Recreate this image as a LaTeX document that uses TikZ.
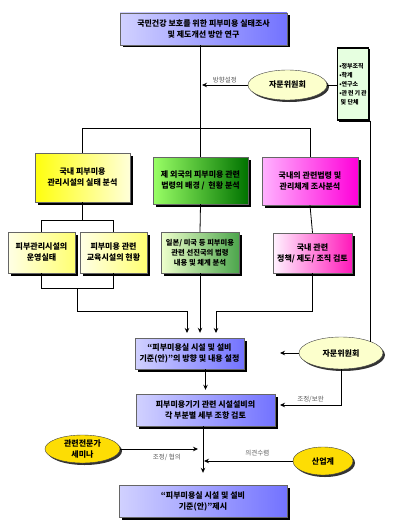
\documentclass[tikz,border=0pt]{standalone}
\usepackage{fontspec}
\setmainfont{Noto Sans CJK KR}
\usetikzlibrary{arrows.meta,shadows,shapes.geometric,calc}

\begin{document}
\begin{tikzpicture}[x=1pt, y=-1pt, line width=0.8pt,
  font=\bfseries\fontsize{8}{11}\selectfont,
  arr/.style={-{Stealth[length=5pt,width=4.5pt]}},
  shade box/.style={draw=black!60, thin, align=center, inner sep=1pt,
    drop shadow={shadow xshift=2.5pt, shadow yshift=-2.5pt, fill=black, opacity=1}},
  bluebox/.style={shade box, left color=blue!18!white, right color=blue!55!white},
  ylwbox/.style={shade box, left color=yellow!95!white, right color=yellow!15!white},
  ylwsub/.style={shade box, left color=yellow!10!white, right color=yellow!55!white},
  grnbox/.style={shade box, left color=green!55!lime!60!white, right color=green!45!black},
  grnsub/.style={shade box, left color=green!10!lime!20!white, right color=green!50!black!70!white},
  pnkbox/.style={shade box, left color=magenta!30!white, right color=magenta!85!red},
  pnksub/.style={shade box, left color=magenta!5!white, right color=magenta!70!red!90!white},
  oval/.style={ellipse, draw=black!75, thin, inner sep=0pt, align=center,
    drop shadow={shadow xshift=2pt, shadow yshift=-2pt, fill=black!80, opacity=1}},
  advoval/.style={oval, fill=lime!25!yellow!20!white},
  goldoval/.style={oval, fill=yellow!80!orange},
  lbl/.style={font=\fontsize{6.5}{7.5}\selectfont, text=black!65, inner sep=2pt}]
  \useasboundingbox (0,0) rectangle (407,527);

  % top title
  \node[bluebox, minimum width=167, minimum height=32] (title) at (203.5,29)
    {국민건강 보호를 위한 피부미용 실태조사\\및 제도개선 방안 연구};

  % advisory group and organisations
  \node[advoval, minimum width=79, minimum height=30] (adv1) at (287.5,85) {자문위원회};
  \node[draw, line width=1.4pt, fill=lime!25!green!12!white, align=left, inner sep=1.2pt,
    minimum width=31, minimum height=72, font=\bfseries\fontsize{6}{9}\selectfont,
    drop shadow={shadow xshift=1.5pt, shadow yshift=-1.5pt, fill=black, opacity=1}]
    (org) at (353,84) {•정부조직\\•학계\\•연구소\\•관\,련\,기\,관\\\ 및 단체};

  % three branches
  \node[ylwbox, minimum width=95, minimum height=49] (yellow) at (82.5,177.5)
    {국내 피부미용\\관리시설의 실태 분석};
  \node[grnbox, minimum width=95, minimum height=47] (green) at (200.5,180.5)
    {제 외국의 피부미용 관련\\법령의 배경 /\ \ 현황 분석};
  \node[pnkbox, minimum width=96, minimum height=48] (pink) at (310,181)
    {국내의 관련법령 및\\관리체계 조사분석};

  \node[ylwsub, minimum width=67, minimum height=41] (ys1) at (41.5,252.5)
    {피부관리시설의\\운영실태};
  \node[ylwsub, minimum width=67, minimum height=41] (ys2) at (113.5,252.5)
    {피부미용 관련\\교육시설의 현황};
  \node[grnsub, minimum width=78, minimum height=41, font=\bfseries\fontsize{7.3}{10}\selectfont]
    (gs) at (200,252.5) {일본/ 미국 등 피부미용\\관련 선진국의 법령\\내용 및 체계 분석};
  \node[pnksub, minimum width=79, minimum height=40] (ps) at (312.5,253)
    {국내 관련\\정책/ 제도/ 조직 검토};

  % standard draft
  \node[bluebox, minimum width=109, minimum height=31] (blue2) at (189.5,353.5)
    {“피부미용실 시설 및 설비\\기준(안)”의 방향 및 내용 설정};
  \node[advoval, minimum width=84, minimum height=32] (adv2) at (341,353) {자문위원회};
  \node[bluebox, minimum width=139, minimum height=32] (blue3) at (205.5,410)
    {피부미용기기 관련 시설설비의\\각 부분별 세부 조항 검토};
  \node[goldoval, minimum width=75, minimum height=28] (sem) at (82.5,449)
    {관련전문가\\세미나};
  \node[goldoval, minimum width=60, minimum height=28] (ind) at (323,461) {산업계};
  \node[bluebox, minimum width=168, minimum height=32] (blue4) at (203,501)
    {“피부미용실 시설 및 설비\\기준(안)”제시};

  % free ends of arrows
  \coordinate (split) at (0,128);
  \coordinate (join) at (0,311);
  \coordinate (dirend) at (202,85);
  \coordinate (in1) at (187,333);
  \coordinate (in3) at (216,333);
  \coordinate (a2) at (280,353);
  \coordinate (a3) at (280,405);
  \coordinate (s1) at (198,449);
  \coordinate (s2) at (204,461);

  % connectors
  \draw (title.south -| green.north) -- (green.north);
  \draw (yellow.north) |- (split -| pink.north) -- (pink.north);
  \draw[arr] (adv1.west) -- (dirend) node[lbl, midway, above] {방향설정};
  \draw (adv1.east) -- (adv1.east -| org.west);
  \draw (org.south -| adv2.north east) -- (adv2.north east);

  \draw (ys1.north) -- ++(0,-11) coordinate (yj) -| (ys2.north);
  \draw (yellow.south) -- (yellow.south |- yj);
  \draw (green.south) -- (gs.north);
  \draw (pink.south) -- (ps.north);

  \draw (ys1.south) -- ++(0,15) coordinate (yb) -| (ys2.south);
  \draw[arr] ($(yb)!0.5!(yb -| ys2.south)$) |- (join -| in1) -- (in1);
  \draw[arr, shorten >=5pt] (gs.south) -- (gs.south |- blue2.north);
  \draw[arr] (ps.south) |- (join -| in3) -- (in3);

  \draw[arr] (adv2.west) -- (a2);
  \draw[arr] (adv2.south) |- (a3) node[lbl, pos=0.75, above] {조정/보완};
  \draw[arr, shorten >=4pt] (blue3.north |- blue2.south) -- (blue3.north);
  \draw[arr, shorten >=12pt] (blue4.north |- blue3.south) -- (blue4.north);
  \draw[arr] (sem.east) -- (s1) node[lbl, pos=0.6, below=3pt] {조정/ 협의};
  \draw[arr] (ind.west) -- (s2) node[lbl, pos=0.4, above=3pt] {의견수렴};
\end{tikzpicture}
\end{document}
